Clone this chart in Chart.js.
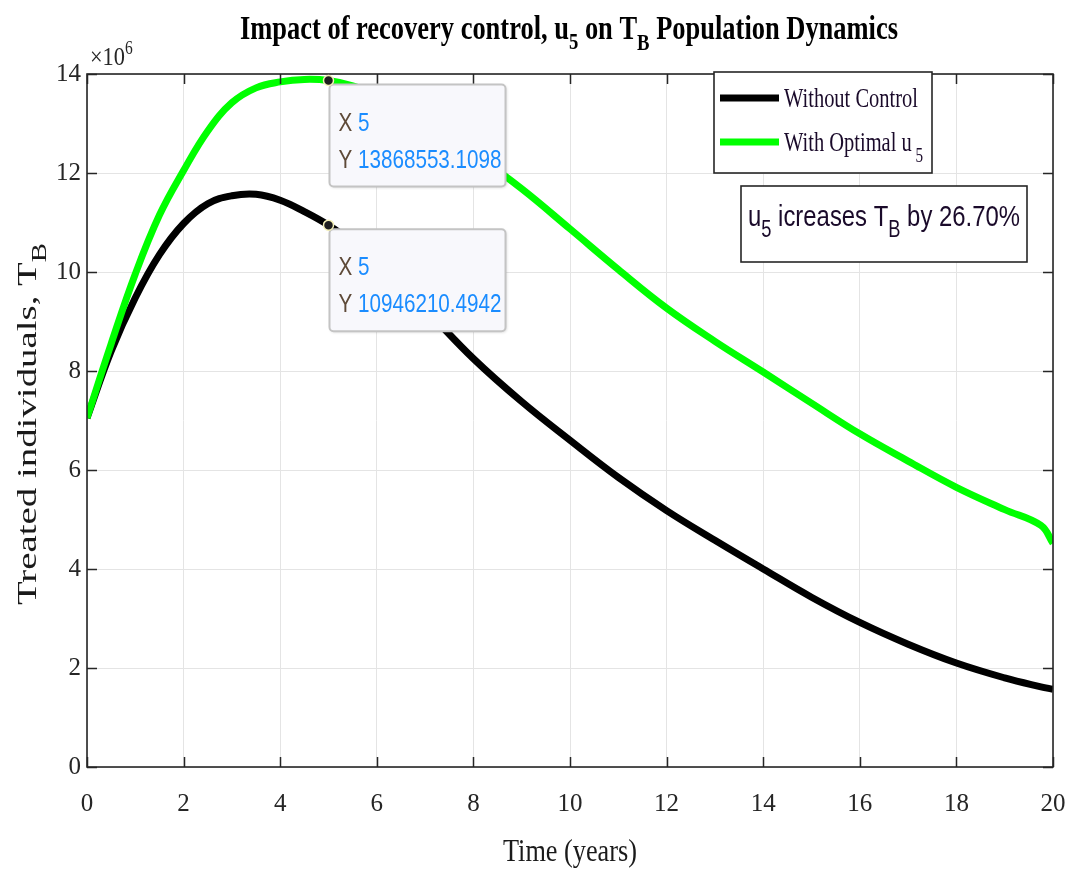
<!DOCTYPE html>
<html>
<head>
<meta charset="utf-8">
<script src="https://cdn.jsdelivr.net/npm/chart.js@4.4.1/dist/chart.umd.min.js"></script>
<style>
html,body{margin:0;padding:0;background:#fff;}
#wrap{width:1073px;height:870px;position:relative;}
</style>
</head>
<body>
<div id="wrap"><canvas id="c" width="1073" height="870"></canvas></div>
<script>
// ---- data (values in millions) ----
const timeYears = [0,0.5,1,1.5,2,2.5,3,3.5,4,4.5,5,5.5,6,7,8,9,10,11,12,13,14,15,16,17,18,19,19.75,20];
const withoutControl = [7.05,8.4,9.48,10.35,10.98,11.38,11.54,11.57,11.45,11.22,10.946,10.6,10.2,9.25,8.25,7.38,6.6,5.85,5.18,4.58,4.0,3.43,2.92,2.48,2.1,1.8,1.62,1.57];
const withOptimalU5 = [7.05,8.55,9.96,11.15,12.05,12.85,13.42,13.72,13.84,13.89,13.8686,13.76,13.58,13.05,12.4,11.68,10.87,10.05,9.27,8.6,7.98,7.35,6.73,6.18,5.65,5.2,4.88,4.52];
const seriesLabels = ["Without Control", "With Optimal u"];
const seriesColors = ["#000000", "#00ff00"];
const xTicks = [0,2,4,6,8,10,12,14,16,18,20];
const yTicks = [0,2,4,6,8,10,12,14];
const tipX = [5, 5];
const tipY = [13868553.1098, 10946210.4942];
const increaseText = "26.70%";

const SERIF = "'Liberation Serif', 'DejaVu Serif', serif";
const SANS = "'Liberation Sans', Arial, sans-serif";

function drawRich(ctx, segs, x, y, sx, align) {
  ctx.save();
  let w = 0;
  for (const s of segs) { ctx.font = s.font; w += ctx.measureText(s.t).width; }
  let startX = x;
  if (align === 'center') startX = x - w * sx / 2;
  else if (align === 'right') startX = x - w * sx;
  ctx.translate(startX, y);
  ctx.scale(sx, 1);
  let cx = 0;
  ctx.textBaseline = 'alphabetic';
  ctx.textAlign = 'left';
  for (const s of segs) {
    ctx.font = s.font;
    ctx.fillStyle = s.color || '#000';
    ctx.fillText(s.t, cx, s.dy || 0);
    cx += ctx.measureText(s.t).width;
  }
  ctx.restore();
  return w * sx;
}
function fitScale(ctx, segs, target) {
  let w = 0;
  for (const s of segs) { ctx.font = s.font; w += ctx.measureText(s.t).width; }
  return target / w;
}

const decor = {
  id: 'decor',
  afterDatasetsDraw(chart) {
    const ctx = chart.ctx;
    const a = chart.chartArea;
    const xs = chart.scales.x, ys = chart.scales.y;
    ctx.save();
    ctx.strokeStyle = '#262626';
    ctx.lineWidth = 1.5;
    ctx.beginPath();
    for (const v of xTicks) {
      const px = Math.round(xs.getPixelForValue(v)) + 0.5;
      ctx.moveTo(px, a.bottom); ctx.lineTo(px, a.bottom - 10);
      ctx.moveTo(px, a.top); ctx.lineTo(px, a.top + 10);
    }
    for (const v of yTicks) {
      const py = Math.round(ys.getPixelForValue(v)) + 0.5;
      ctx.moveTo(a.left, py); ctx.lineTo(a.left + 10, py);
      ctx.moveTo(a.right, py); ctx.lineTo(a.right - 10, py);
    }
    ctx.stroke();
    ctx.lineWidth = 1.6;
    ctx.strokeRect(a.left, a.top, a.right - a.left, a.bottom - a.top);

    // ---- datatips ----
    for (let i = 0; i < tipX.length; i++) {
      const px = xs.getPixelForValue(tipX[i]);
      const py = ys.getPixelForValue(tipY[i] / 1e6);
      const bx = px + 1, by = py + 4, bw = 176, bh = 102;
      ctx.save();
      ctx.shadowColor = 'rgba(0,0,0,0.18)';
      ctx.shadowBlur = 3; ctx.shadowOffsetX = 1; ctx.shadowOffsetY = 1;
      ctx.fillStyle = '#f8f8fc';
      ctx.beginPath(); ctx.roundRect(bx, by, bw, bh, 4); ctx.fill();
      ctx.restore();
      ctx.strokeStyle = '#c4c4c4'; ctx.lineWidth = 2;
      ctx.beginPath(); ctx.roundRect(bx, by, bw, bh, 4); ctx.stroke();
      const f = "25px " + SANS;
      const ySegs = [{t:'Y ', font:f, color:'#5e4a38'}, {t:tipY[i].toFixed(4), font:f, color:'#1a8cff'}];
      const sc = fitScale(ctx, ySegs, 163);
      drawRich(ctx, [{t:'X ', font:f, color:'#5e4a38'}, {t:String(tipX[i]), font:f, color:'#1a8cff'}], bx + 9, by + 46, sc, 'left');
      drawRich(ctx, ySegs, bx + 9, by + 83, sc, 'left');
      ctx.beginPath(); ctx.arc(px, py, 5, 0, Math.PI * 2);
      ctx.fillStyle = '#1e1e1e'; ctx.fill();
      ctx.lineWidth = 1.5; ctx.strokeStyle = '#f4f0b8'; ctx.stroke();
    }

    // ---- legend ----
    const lx = 714, ly = 72, lw = 218, lh = 101;
    ctx.fillStyle = '#fff';
    ctx.fillRect(lx, ly, lw, lh);
    ctx.strokeStyle = '#262626'; ctx.lineWidth = 1.6;
    ctx.strokeRect(lx, ly, lw, lh);
    const lf = "27px " + SERIF;
    const l0 = [{t: seriesLabels[0], font: lf, color:'#1a0a2a'}];
    const lsc = fitScale(ctx, l0, 134);
    for (let i = 0; i < 2; i++) {
      const yy = ly + 26 + i * 44;
      ctx.fillStyle = seriesColors[i];
      ctx.fillRect(720, yy - 3.5, 59, 7);
      const segs = [{t: seriesLabels[i], font: lf, color:'#1a0a2a'}];
      if (i === 1) segs.push({t:' 5', font:"20px " + SERIF, dy: 11, color:'#1a0a2a'});
      drawRich(ctx, segs, 784, yy + 9, lsc, 'left');
    }

    // ---- annotation box ----
    const tx = 741, ty = 186, tw = 286, th = 76;
    ctx.fillStyle = '#fff'; ctx.fillRect(tx, ty, tw, th);
    ctx.strokeStyle = '#262626'; ctx.lineWidth = 1.6; ctx.strokeRect(tx, ty, tw, th);
    const af = "30px " + SANS, sf = "23px " + SANS;
    const aSegs = [
      {t:'u', font:af, color:'#1a0a2a'}, {t:'5', font:sf, dy:11, color:'#1a0a2a'},
      {t:' icreases T', font:af, color:'#1a0a2a'}, {t:'B', font:sf, dy:11, color:'#1a0a2a'},
      {t:' by ' + increaseText, font:af, color:'#1a0a2a'}
    ];
    drawRich(ctx, aSegs, tx + 7, ty + 40, fitScale(ctx, aSegs, 272), 'left');

    // ---- title ----
    const tf = "bold 34px " + SERIF, tsf = "bold 24px " + SERIF;
    const tSegs = [
      {t:'Impact of recovery control, u', font:tf}, {t:'5', font:tsf, dy:10},
      {t:' on T', font:tf}, {t:'B', font:tsf, dy:11},
      {t:' Population Dynamics', font:tf}
    ];
    drawRich(ctx, tSegs, 569, 39, fitScale(ctx, tSegs, 658), 'center');

    // ---- x10^6 ----
    drawRich(ctx, [{t:'\u00d710', font:"26px " + SERIF, color:'#262626'}, {t:'6', font:"18px " + SERIF, dy:-11, color:'#262626'}], 90, 65, 0.86, 'left');

    // ---- x axis title ----
    const xSegs = [{t:'Time (years)', font:"32px " + SERIF, color:'#1a1a1a'}];
    drawRich(ctx, xSegs, 570, 861, fitScale(ctx, xSegs, 134), 'center');

    // ---- y axis title ----
    ctx.save();
    ctx.translate(36, 424);
    ctx.rotate(-Math.PI / 2);
    const yf = "27px " + SERIF, ysf = "20px " + SERIF;
    const ySegs2 = [{t:'Treated individuals, T', font:yf, color:'#1a1a1a'}, {t:'B', font:ysf, dy:10, color:'#1a1a1a'}];
    drawRich(ctx, ySegs2, 0, 0, fitScale(ctx, ySegs2, 362), 'center');
    ctx.restore();

    ctx.restore();
  }
};

new Chart(document.getElementById('c'), {
  type: 'line',
  data: {
    datasets: [
      { label: seriesLabels[0], data: timeYears.map((t, i) => ({x: t, y: withoutControl[i]})),
        borderColor: seriesColors[0], backgroundColor: seriesColors[0], borderWidth: 7, pointRadius: 0,
        tension: 0.4, order: 1, borderCapStyle: 'butt', borderJoinStyle: 'round' },
      { label: seriesLabels[1] + '5', data: timeYears.map((t, i) => ({x: t, y: withOptimalU5[i]})),
        borderColor: seriesColors[1], backgroundColor: seriesColors[1], borderWidth: 7, pointRadius: 0,
        tension: 0.4, order: 0, borderCapStyle: 'butt', borderJoinStyle: 'round' }
    ]
  },
  options: {
    responsive: false,
    animation: false,
    events: [],
    layout: { padding: { top: 74, right: 20, left: 0, bottom: 0 } },
    plugins: { legend: { display: false }, tooltip: { enabled: false }, title: { display: false } },
    scales: {
      x: {
        type: 'linear', min: 0, max: 20,
        afterBuildTicks: (s) => { s.ticks = xTicks.map(v => ({value: v})); },
        ticks: { font: { family: SERIF, size: 25 }, color: '#262626', padding: 22, maxRotation: 0 },
        grid: { color: '#e4e4e4', lineWidth: 1, drawTicks: false },
        border: { display: false },
        afterFit: (s) => { s.height = 103; s.paddingLeft = 0; s.paddingRight = 0; }
      },
      y: {
        min: 0, max: 14,
        afterBuildTicks: (s) => { s.ticks = yTicks.map(v => ({value: v})); },
        ticks: { font: { family: SERIF, size: 25 }, color: '#262626', padding: 6 },
        grid: { color: '#e4e4e4', lineWidth: 1, drawTicks: false },
        border: { display: false },
        afterFit: (s) => { s.width = 87; s.paddingTop = 0; s.paddingBottom = 0; }
      }
    }
  },
  plugins: [decor]
});
</script>
</body>
</html>
